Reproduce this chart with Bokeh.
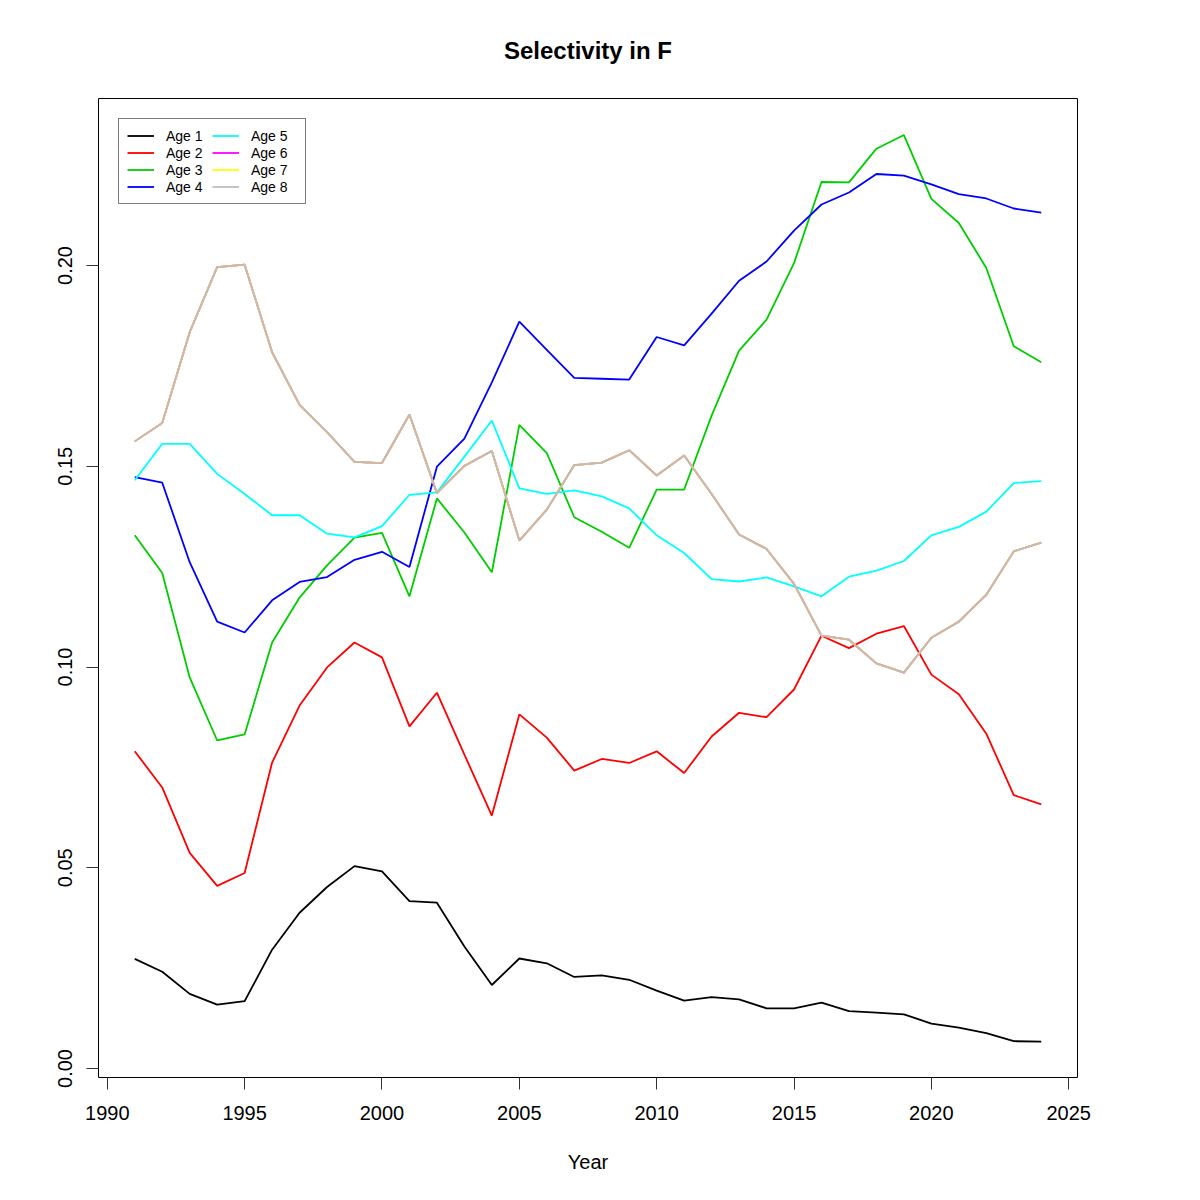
from bokeh.plotting import figure
from bokeh.models import FixedTicker, Range1d, Legend, LegendItem
from bokeh.embed import file_html
from bokeh.resources import INLINE

years = list(range(1991, 2025))
age1 = [0.0273, 0.0241, 0.0186, 0.0159, 0.0168, 0.0296, 0.0388, 0.0452, 0.0504, 0.0491,
        0.0417, 0.0413, 0.0304, 0.0208, 0.0274, 0.0262, 0.0228, 0.0232, 0.0221, 0.0194,
        0.0169, 0.0178, 0.0172, 0.0150, 0.0150, 0.0164, 0.0143, 0.0139, 0.0135, 0.0112,
        0.0102, 0.0088, 0.0068, 0.0067]
age2 = [0.0790, 0.0700, 0.0537, 0.0455, 0.0487, 0.0762, 0.0904, 0.0999, 0.1061, 0.1024,
        0.0852, 0.0936, 0.0782, 0.0630, 0.0882, 0.0824, 0.0742, 0.0771, 0.0761, 0.0790,
        0.0736, 0.0827, 0.0886, 0.0875, 0.0944, 0.1078, 0.1047, 0.1083, 0.1102, 0.0981,
        0.0932, 0.0834, 0.0681, 0.0658]
age3 = [0.1328, 0.1234, 0.0974, 0.0817, 0.0832, 0.1061, 0.1173, 0.1253, 0.1322, 0.1334,
        0.1176, 0.1420, 0.1335, 0.1236, 0.1603, 0.1533, 0.1373, 0.1337, 0.1297, 0.1442,
        0.1442, 0.1626, 0.1788, 0.1865, 0.2006, 0.2208, 0.2207, 0.2291, 0.2325, 0.2166,
        0.2106, 0.1994, 0.1799, 0.1759]
age4 = [0.1473, 0.1459, 0.1261, 0.1113, 0.1086, 0.1166, 0.1212, 0.1224, 0.1267, 0.1287,
        0.1249, 0.1499, 0.1569, 0.1709, 0.1860, 0.1790, 0.1720, 0.1718, 0.1716, 0.1822,
        0.1801, 0.1880, 0.1962, 0.2010, 0.2087, 0.2152, 0.2182, 0.2228, 0.2224, 0.2202,
        0.2178, 0.2167, 0.2142, 0.2132]
age5 = [0.1465, 0.1556, 0.1556, 0.1481, 0.1431, 0.1378, 0.1378, 0.1332, 0.1323, 0.1351,
        0.1429, 0.1435, 0.1524, 0.1614, 0.1445, 0.1431, 0.1440, 0.1425, 0.1395, 0.1328,
        0.1284, 0.1219, 0.1213, 0.1223, 0.1201, 0.1176, 0.1225, 0.1240, 0.1264, 0.1328,
        0.1349, 0.1387, 0.1458, 0.1463]
age8 = [0.1562, 0.1608, 0.1834, 0.1996, 0.2002, 0.1784, 0.1653, 0.1585, 0.1511, 0.1508,
        0.1629, 0.1433, 0.1501, 0.1538, 0.1315, 0.1392, 0.1503, 0.1509, 0.1540, 0.1477,
        0.1527, 0.1431, 0.1330, 0.1294, 0.1207, 0.1078, 0.1068, 0.1009, 0.0986, 0.1073,
        0.1113, 0.1180, 0.1288, 0.1310]
age6 = list(age8)
age7 = list(age8)

labels = ["Age 1", "Age 2", "Age 3", "Age 4", "Age 5", "Age 6", "Age 7", "Age 8"]
series = [age1, age2, age3, age4, age5, age6, age7, age8]
colors = ["#000000", "#FF0000", "#00CD00", "#0000FF", "#00FFFF", "#FF00FF", "#FFFF00", "#BEBEBE"]
overlap_color = "#CDB9A5"

x_ticks = [1990, 1995, 2000, 2005, 2010, 2015, 2020, 2025]
y_ticks = [0.0, 0.05, 0.10, 0.15, 0.20]
y_tick_labels = ["0.00", "0.05", "0.10", "0.15", "0.20"]

FONT = "Liberation Sans"

p = figure(width=1200, height=1200, output_backend="svg", toolbar_location=None,
           title="Selectivity in F",
           x_range=Range1d(1989.68, 2025.32), y_range=Range1d(-0.00224, 0.2416),
           min_border_left=98, min_border_top=98, min_border_right=123, min_border_bottom=123)

p.background_fill_color = "white"
p.border_fill_color = "white"
p.outline_line_color = "black"
p.outline_line_width = 1
p.outline_line_alpha = 1.0
p.xgrid.visible = False
p.ygrid.visible = False

p.title.align = "center"
p.title.text_font = FONT
p.title.text_font_size = "24px"
p.title.text_font_style = "bold"
p.title.text_color = "black"
p.title.standoff = 69

p.xaxis.ticker = FixedTicker(ticks=x_ticks)
p.yaxis.ticker = FixedTicker(ticks=y_ticks)
p.yaxis.major_label_overrides = {t: l for t, l in zip(y_ticks, y_tick_labels)}
p.xaxis.major_label_overrides = {t: str(t) for t in x_ticks}
p.yaxis.major_label_orientation = "vertical"
for ax in (p.xaxis, p.yaxis):
    ax.axis_line_color = None
    ax.minor_tick_line_color = None
    ax.major_tick_out = 12
    ax.major_tick_in = 0
    ax.major_tick_line_color = "#333333"
    ax.major_tick_line_width = 1
    ax.major_label_text_font = FONT
    ax.major_label_text_font_size = "20px"
    ax.major_label_text_color = "black"
p.xaxis.major_label_standoff = 16
p.yaxis.major_label_standoff = 14
p.xaxis.axis_label = "Year"
p.xaxis.axis_label_text_font = FONT
p.xaxis.axis_label_text_font_size = "20px"
p.xaxis.axis_label_text_font_style = "normal"
p.xaxis.axis_label_text_color = "black"
p.xaxis.axis_label_standoff = 28

items = []
for lab, ys, c in zip(labels, series, colors):
    r = p.line(years, ys, line_color=c, line_width=1.8)
    items.append(LegendItem(label=lab, renderers=[r]))

# ages 6-8 coincide; the overlap blends into a tan colour in the reference
p.line(years, age8, line_color=overlap_color, line_width=1.8)

legend = Legend(items=items, location="top_left", nrows=4)
legend.margin = 20
legend.padding = 8
legend.spacing = 0
legend.glyph_width = 27
legend.glyph_height = 17
legend.label_height = 17
legend.label_width = 46
legend.label_standoff = 12
legend.label_text_font = FONT
legend.label_text_font_size = "14px"
legend.label_text_color = "black"
legend.border_line_color = "black"
legend.border_line_width = 1
legend.background_fill_color = "white"
legend.background_fill_alpha = 1.0
p.add_layout(legend, "center")

open("out.html", "w").write(file_html(p, INLINE))
